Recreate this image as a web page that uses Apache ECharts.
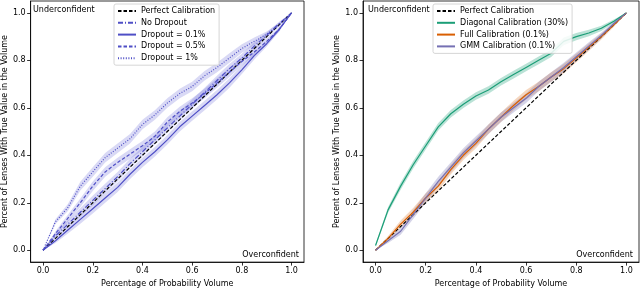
<!DOCTYPE html>
<html><head><meta charset="utf-8">
<script src="https://cdn.jsdelivr.net/npm/echarts@6/dist/echarts.min.js"></script>
<style>html,body{margin:0;padding:0;background:#fff}#c{width:640px;height:293px}</style>
</head><body><div id="c"></div>
<script>
// ---- data ----
const xs = [0,0.05,0.1,0.15,0.2,0.25,0.3,0.35,0.4,0.45,0.5,0.55,0.6,0.65,0.7,0.75,0.8,0.85,0.9,0.95,1];
const perfect = [0,0.05,0.1,0.15,0.2,0.25,0.3,0.35,0.4,0.45,0.5,0.55,0.6,0.65,0.7,0.75,0.8,0.85,0.9,0.95,1];
// left panel
const noDropout = [0,0.06,0.11,0.16,0.21,0.26,0.31,0.365,0.415,0.465,0.515,0.565,0.615,0.665,0.715,0.765,0.81,0.86,0.905,0.955,1];
const dropout01 = [0,0.04,0.085,0.13,0.175,0.22,0.265,0.32,0.37,0.415,0.465,0.52,0.565,0.61,0.655,0.705,0.76,0.82,0.87,0.93,1];
const dropout05 = [0,0.07,0.135,0.2,0.27,0.33,0.37,0.405,0.44,0.48,0.54,0.585,0.62,0.66,0.705,0.75,0.795,0.835,0.88,0.93,1];
const dropout1  = [0,0.12,0.18,0.27,0.33,0.39,0.43,0.47,0.53,0.57,0.62,0.66,0.69,0.735,0.77,0.81,0.85,0.88,0.91,0.95,1];
// right panel
const diagonal30 = [0.02,0.17,0.27,0.36,0.44,0.52,0.575,0.615,0.65,0.675,0.71,0.74,0.77,0.80,0.83,0.88,0.90,0.915,0.935,0.965,1];
const full01 = [0,0.05,0.11,0.16,0.22,0.27,0.34,0.40,0.45,0.51,0.56,0.61,0.655,0.69,0.73,0.765,0.81,0.855,0.90,0.95,1];
const gmm01  = [0,0.04,0.08,0.15,0.22,0.29,0.35,0.41,0.46,0.51,0.56,0.60,0.64,0.69,0.73,0.77,0.815,0.86,0.905,0.955,1];
// uncertainty band half-widths (per point)
const bandLeft = [0,0.01,0.015,0.018,0.02,0.02,0.02,0.02,0.02,0.02,0.02,0.02,0.02,0.02,0.02,0.02,0.018,0.016,0.012,0.008,0];
const bandDiag = [0.005,0.012,0.015,0.016,0.016,0.016,0.016,0.016,0.016,0.016,0.016,0.016,0.016,0.016,0.016,0.016,0.015,0.014,0.011,0.007,0];
const bandFull = [0,0.01,0.015,0.018,0.02,0.02,0.02,0.02,0.02,0.02,0.02,0.02,0.02,0.02,0.02,0.02,0.018,0.016,0.012,0.008,0];
const bandGmm  = [0,0.01,0.015,0.018,0.02,0.02,0.02,0.02,0.02,0.02,0.02,0.02,0.02,0.02,0.02,0.02,0.018,0.016,0.012,0.008,0];
const ticks = [0,0.2,0.4,0.6,0.8,1.0];

const pairs = ys => xs.map((x,i)=>[x,ys[i]]);
const FONT = 'DejaVu Sans';
const BLUE = '#4f4fc6';

function band(ys, hw, color, gi){
  return {
    type:'custom', xAxisIndex:gi, yAxisIndex:gi, silent:true, z:1,
    data:[[0,0]],
    renderItem:(params, api)=>{
      const up = xs.map((x,i)=>api.coord([x, ys[i]+hw[i]]));
      const lo = xs.map((x,i)=>api.coord([x, ys[i]-hw[i]])).reverse();
      return {type:'polygon', shape:{points: up.concat(lo)}, style:{fill:color}};
    }
  };
}
function line(name, ys, color, type, gi, w){
  return {type:'line', name, xAxisIndex:gi, yAxisIndex:gi, data:pairs(ys), symbol:'none', z:3,
    lineStyle:{color, width:w||1.2, type}, itemStyle:{color}};
}

const bandBlue = 'rgba(110,110,215,0.26)';
const series = [
  band(noDropout, bandLeft, bandBlue, 0),
  band(dropout01, bandLeft, bandBlue, 0),
  band(dropout05, bandLeft, bandBlue, 0),
  band(dropout1, bandLeft, bandBlue, 0),
  line('Perfect Calibration', perfect, '#000', [3.5,2], 0),
  line('No Dropout', noDropout, BLUE, [5,2,1,2], 0),
  line('Dropout = 0.1%', dropout01, BLUE, 'solid', 0),
  line('Dropout = 0.5%', dropout05, BLUE, [3.5,2], 0),
  line('Dropout = 1%', dropout1, BLUE, [1,1.6], 0),
  band(diagonal30, bandDiag, 'rgba(27,158,119,0.3)', 1),
  band(full01, bandFull, 'rgba(217,95,2,0.25)', 1),
  band(gmm01, bandGmm, 'rgba(117,112,179,0.3)', 1),
  line('Perfect Calibration ', perfect, '#000', [3.5,2], 1),
  line('Diagonal Calibration (30%)', diagonal30, '#1b9e77', 'solid', 1),
  line('Full Calibration (0.1%)', full01, '#d95f02', 'solid', 1),
  line('GMM Calibration (0.1%)', gmm01, '#7570b3', 'solid', 1),
];

function xAxis(gi){
  return {type:'value', gridIndex:gi, min:-0.05, max:1.05,
    name:'Percentage of Probability Volume', nameLocation:'middle', nameGap:14,
    nameTextStyle:{fontFamily:FONT, fontSize:8, color:'#000'},
    axisLine:{show:true, onZero:false, lineStyle:{color:'#000', width:0.8}},
    axisTick:{show:true, length:3.5, lineStyle:{color:'#000', width:0.8}, customValues:ticks},
    axisLabel:{fontFamily:FONT, fontSize:8, color:'#000', margin:5, customValues:ticks, formatter:v=>v.toFixed(1)},
    splitLine:{show:false}};
}
function yAxis(gi){
  return {type:'value', gridIndex:gi, min:-0.05, max:1.05,
    name:'Percent of Lenses With True Value in the Volume', nameLocation:'middle', nameGap:19,
    nameTextStyle:{fontFamily:FONT, fontSize:8, color:'#000'},
    axisLine:{show:true, onZero:false, lineStyle:{color:'#000', width:0.8}},
    axisTick:{show:true, length:3.5, lineStyle:{color:'#000', width:0.8}, customValues:ticks},
    axisLabel:{fontFamily:FONT, fontSize:8, color:'#000', margin:5, customValues:ticks, formatter:v=>v.toFixed(1)},
    splitLine:{show:false}};
}
const legendBase = {orient:'vertical', itemWidth:18, itemHeight:8, itemGap:3.8, padding:[3,4,3,3],
  borderColor:'#ccc', borderWidth:0.8, borderRadius:2, backgroundColor:'rgba(255,255,255,0.85)',
  itemStyle:{opacity:0},
  textStyle:{fontFamily:FONT, fontSize:8, color:'#000'}, selectedMode:false};

const chart = echarts.init(document.getElementById('c'), null, {renderer:'canvas'});
chart.setOption({
  animation:false,
  backgroundColor:'#fff',
  grid:[
    {left:28, width:276, top:1, bottom:24, show:true, borderColor:'#000', borderWidth:0.8},
    {left:363, width:276, top:1, bottom:24, show:true, borderColor:'#000', borderWidth:0.8}
  ],
  xAxis:[xAxis(0), xAxis(1)],
  yAxis:[yAxis(0), yAxis(1)],
  legend:[
    Object.assign({}, legendBase, {left:114, top:4,
      data:['Perfect Calibration','No Dropout','Dropout = 0.1%','Dropout = 0.5%','Dropout = 1%']}),
    Object.assign({}, legendBase, {left:433, top:4,
      data:['Perfect Calibration ','Diagonal Calibration (30%)','Full Calibration (0.1%)','GMM Calibration (0.1%)']})
  ],
  graphic:[
    {type:'text', left:33, top:6, style:{text:'Underconfident', font:'8px "DejaVu Sans"', fill:'#000'}},
    {type:'text', left:368, top:6, style:{text:'Underconfident', font:'8px "DejaVu Sans"', fill:'#000'}},
    {type:'text', right:341, top:251, style:{text:'Overconfident', font:'8px "DejaVu Sans"', fill:'#000'}},
    {type:'text', right:7, top:251, style:{text:'Overconfident', font:'8px "DejaVu Sans"', fill:'#000'}}
  ],
  series
});
</script></body></html>
